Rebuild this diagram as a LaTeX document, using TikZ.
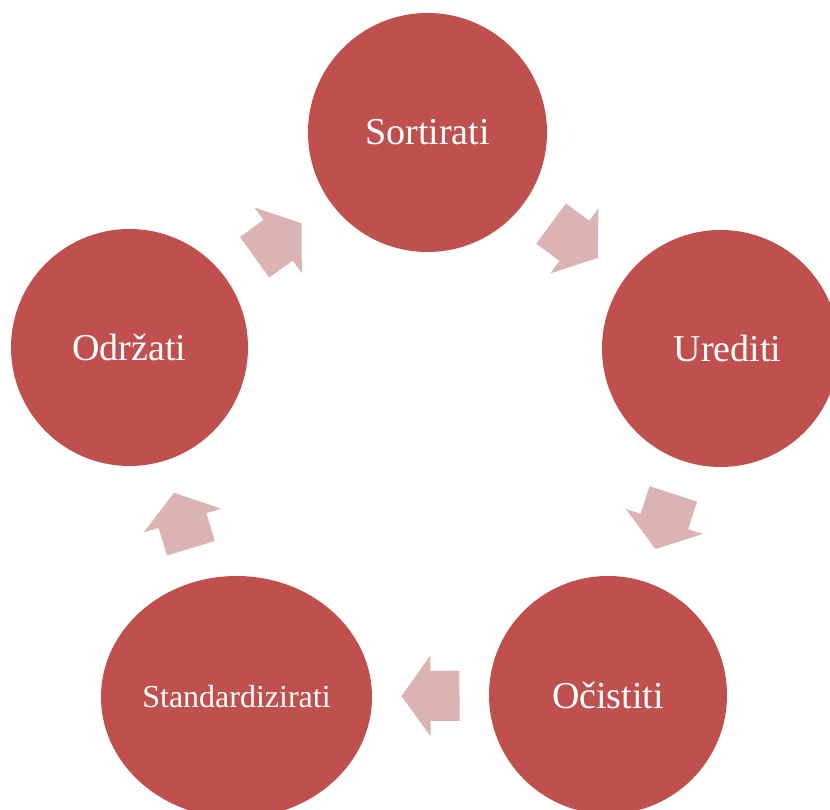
\documentclass[tikz,border=0pt]{standalone}
\usepackage{fontspec}
\setmainfont{Liberation Serif}
\usetikzlibrary{shapes.geometric}
\definecolor{krugboja}{RGB}{192,80,77}
\definecolor{strelboja}{RGB}{220,179,179}

\begin{document}
\begin{tikzpicture}[x=1pt,y=1pt,
    krug/.style={circle, fill=krugboja, text=white, inner sep=0pt, font=\fontsize{38}{40}\selectfont},
    strelica/.pic={\fill[strelboja] (-29,-25) -- (0,-25) -- (0,-40.5) -- (29,0) -- (0,40.5) -- (0,25) -- (-29,25) -- cycle;}]
          \useasboundingbox (0,0) rectangle (830,810);
          \clip (0,0) rectangle (830,810);
          \node[krug, minimum size=239pt] (sort) at (427.5,677.5) {Sortirati};
          \node[krug, minimum size=237pt] (ured) at (720.5,461.5) {\hspace*{14pt}Urediti};
          \node[krug, minimum size=238pt] (ocis) at (608,115) {Očistiti};
          \node[krug, ellipse, minimum width=271pt, minimum height=242pt, font=\fontsize{32}{34}\selectfont] (stand) at (236.5,113) {Standardizirati};
          \node[krug, minimum size=237pt] (odr) at (129.5,462.5) {Održati};
          % strelice izmedju krugova
          \path (sort) -- (ured) pic[midway, sloped, allow upside down] {strelica};
          \path (ured) -- (ocis) pic[midway, sloped, allow upside down] {strelica};
          \path (ocis) -- (stand) pic[midway, sloped, allow upside down] {strelica};
          \path (stand) -- (odr) pic[midway, sloped, allow upside down] {strelica};
          \path (odr) -- (sort) pic[midway, sloped, allow upside down] {strelica};
      \end{tikzpicture}
\end{document}
